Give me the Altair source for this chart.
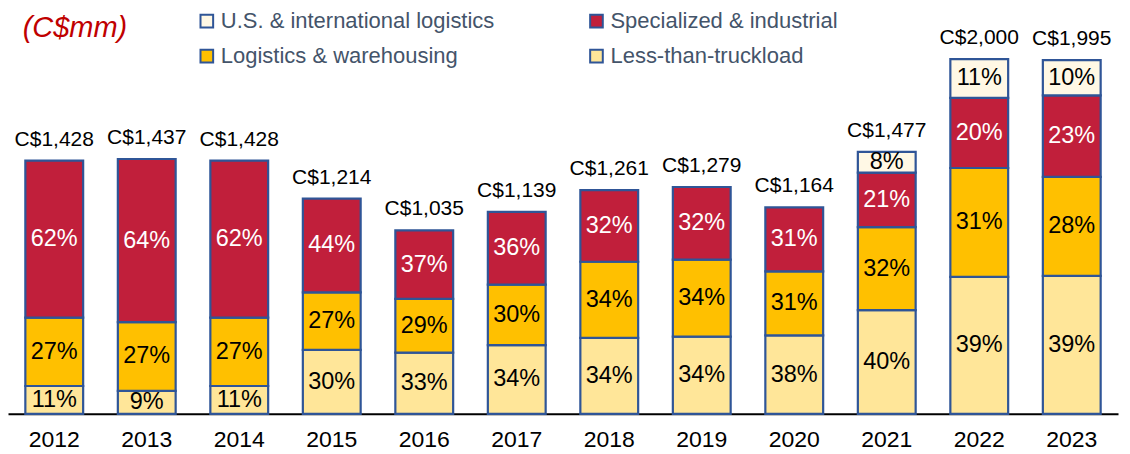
import altair as alt
import pandas as pd

years = ["2012", "2013", "2014", "2015", "2016", "2017", "2018", "2019", "2020", "2021", "2022", "2023"]
totals = [1428, 1437, 1428, 1214, 1035, 1139, 1261, 1279, 1164, 1477, 2000, 1995]
ltl = [11, 9, 11, 30, 33, 34, 34, 34, 38, 40, 39, 39]
logistics = [27, 27, 27, 27, 29, 30, 34, 34, 31, 32, 31, 28]
specialized = [62, 64, 62, 44, 37, 36, 32, 32, 31, 21, 20, 23]
us_intl = [0, 0, 0, 0, 0, 0, 0, 0, 0, 8, 11, 10]

segments = ["Less-than-truckload", "Logistics & warehousing", "Specialized & industrial", "U.S. & international logistics"]
legend_order = ["U.S. & international logistics", "Logistics & warehousing", "Specialized & industrial", "Less-than-truckload"]
legend_colors = ["#FFF8E5", "#FFC000", "#C11F3B", "#FFE699"]
series = [ltl, logistics, specialized, us_intl]

rows = []
for i, yr in enumerate(years):
    s = sum(ser[i] for ser in series)
    base = 0.0
    for seg, ser in zip(segments, series):
        p = ser[i]
        if p == 0:
            continue
        h = totals[i] * p / s
        rows.append({
            "year": yr, "seg": seg, "y0": base, "y1": base + h, "mid": base + h / 2,
            "label": f"{p}%",
            "tcolor": "white" if seg == "Specialized & industrial" else "black",
        })
        base += h
df = pd.DataFrame(rows)
tot = pd.DataFrame({"year": years, "total": totals, "label": [f"C${t:,}" for t in totals]})

STROKE = "#2F5597"
xenc = alt.X("year:N", title=None, sort=years,
             scale=alt.Scale(paddingInner=0.375, paddingOuter=0.1875),
             axis=alt.Axis(labelAngle=0, labelFontSize=23, labelColor="black", ticks=False,
                           domainColor="black", domainWidth=2, labelPadding=15, grid=False))
yscale = alt.Scale(domain=[0, 2000], nice=False, zero=True)

bars = alt.Chart(df).mark_bar(stroke=STROKE, strokeWidth=2.2).encode(
    x=xenc,
    y=alt.Y("y0:Q", scale=yscale, axis=None),
    y2="y1:Q",
    color=alt.Color("seg:N", scale=alt.Scale(domain=legend_order, range=legend_colors),
                    legend=alt.Legend(title=None, orient="none", legendX=188, legendY=-49,
                                      columns=2, columnPadding=91, rowPadding=13,
                                      symbolType="square", symbolSize=160,
                                      symbolStrokeColor=STROKE, symbolStrokeWidth=2,
                                      labelFontSize=22, labelColor="#44546A", labelOffset=3,
                                      labelLimit=400, padding=0)),
)

pct = alt.Chart(df).mark_text(fontSize=23.5, baseline="middle", align="center").encode(
    x=alt.X("year:N", sort=years),
    y=alt.Y("mid:Q", scale=yscale),
    text="label:N",
    color=alt.Color("tcolor:N", scale=None),
)

totals_txt = alt.Chart(tot).mark_text(fontSize=21, baseline="middle", align="center", dy=-21, color="black").encode(
    x=alt.X("year:N", sort=years),
    y=alt.Y("total:Q", scale=yscale),
    text="label:N",
)

unit = alt.Chart(pd.DataFrame({"t": ["(C$mm)"]})).mark_text(
    fontSize=29, fontStyle="italic", color="#C00000", align="center", baseline="middle"
).encode(x=alt.value(67), y=alt.value(-31), text="t:N")

chart = alt.layer(bars, pct, totals_txt, unit).properties(
    width=1111, height=355,
    autosize=alt.AutoSizeParams(type="none"),
    padding={"top": 51, "left": 0, "right": 4, "bottom": 38},
).configure(font="Liberation Sans").configure_view(strokeWidth=0, stroke="transparent")

chart.save("out.html", embed_options={"renderer": "svg", "actions": False})
